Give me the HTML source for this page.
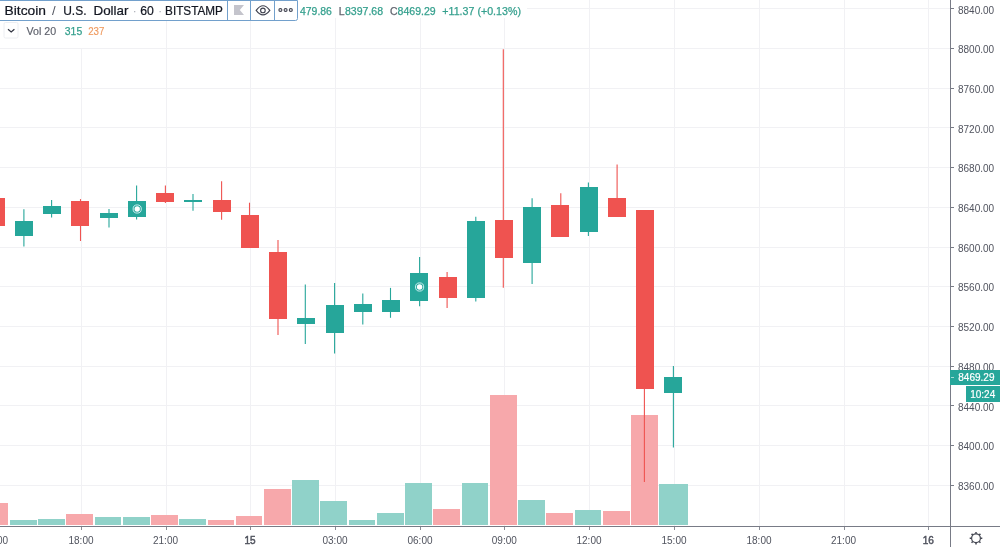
<!DOCTYPE html>
<html><head><meta charset="utf-8"><style>
html,body{margin:0;padding:0;width:1000px;height:547px;overflow:hidden;background:#fff;}
svg{position:absolute;left:0;top:0;}
text{font-family:"Liberation Sans",sans-serif;}
svg{will-change:transform;}
.ax{font-size:10px;fill:#50535e;}
.axb{font-size:10px;fill:#50535e;stroke:#50535e;stroke-width:0.45px;}
.axw{font-size:10px;fill:#ffffff;stroke:#ffffff;stroke-width:0.2px;}
.t{font-size:13px;fill:#131722;stroke:#131722;stroke-width:0.22px;}
.dot{font-size:13px;fill:#b0b3bb;}
.o{font-size:10.5px;fill:#35a08e;stroke:#35a08e;stroke-width:0.25px;}
.og{font-size:10.5px;fill:#62656f;stroke:#62656f;stroke-width:0.25px;}
</style></head><body>
<svg width="1000" height="547" viewBox="0 0 1000 547" shape-rendering="crispEdges">
<line x1="0" y1="8.5" x2="950" y2="8.5" stroke="#f1f1f4"/>
<line x1="0" y1="48.5" x2="950" y2="48.5" stroke="#f1f1f4"/>
<line x1="0" y1="88.5" x2="950" y2="88.5" stroke="#f1f1f4"/>
<line x1="0" y1="127.5" x2="950" y2="127.5" stroke="#f1f1f4"/>
<line x1="0" y1="167.5" x2="950" y2="167.5" stroke="#f1f1f4"/>
<line x1="0" y1="207.5" x2="950" y2="207.5" stroke="#f1f1f4"/>
<line x1="0" y1="247.5" x2="950" y2="247.5" stroke="#f1f1f4"/>
<line x1="0" y1="286.5" x2="950" y2="286.5" stroke="#f1f1f4"/>
<line x1="0" y1="326.5" x2="950" y2="326.5" stroke="#f1f1f4"/>
<line x1="0" y1="366.5" x2="950" y2="366.5" stroke="#f1f1f4"/>
<line x1="0" y1="405.5" x2="950" y2="405.5" stroke="#f1f1f4"/>
<line x1="0" y1="445.5" x2="950" y2="445.5" stroke="#f1f1f4"/>
<line x1="0" y1="485.5" x2="950" y2="485.5" stroke="#f1f1f4"/>
<line x1="-3.5" y1="0" x2="-3.5" y2="526" stroke="#f1f1f4"/>
<line x1="81.5" y1="0" x2="81.5" y2="526" stroke="#f1f1f4"/>
<line x1="166.5" y1="0" x2="166.5" y2="526" stroke="#f1f1f4"/>
<line x1="250.5" y1="0" x2="250.5" y2="526" stroke="#f1f1f4"/>
<line x1="335.5" y1="0" x2="335.5" y2="526" stroke="#f1f1f4"/>
<line x1="420.5" y1="0" x2="420.5" y2="526" stroke="#f1f1f4"/>
<line x1="504.5" y1="0" x2="504.5" y2="526" stroke="#f1f1f4"/>
<line x1="589.5" y1="0" x2="589.5" y2="526" stroke="#f1f1f4"/>
<line x1="674.5" y1="0" x2="674.5" y2="526" stroke="#f1f1f4"/>
<line x1="759.5" y1="0" x2="759.5" y2="526" stroke="#f1f1f4"/>
<line x1="844.5" y1="0" x2="844.5" y2="526" stroke="#f1f1f4"/>
<line x1="928.5" y1="0" x2="928.5" y2="526" stroke="#f1f1f4"/>
<rect x="-18.4" y="502.9" width="26.7" height="22.1" fill="#f7a8ab"/>
<rect x="9.8" y="519.9" width="26.7" height="5.1" fill="#90d2c9"/>
<rect x="38.0" y="518.6" width="26.7" height="6.4" fill="#90d2c9"/>
<rect x="66.3" y="513.7" width="26.7" height="11.3" fill="#f7a8ab"/>
<rect x="94.5" y="517.2" width="26.7" height="7.8" fill="#90d2c9"/>
<rect x="122.8" y="517.2" width="26.7" height="7.8" fill="#90d2c9"/>
<rect x="151.0" y="515.4" width="26.7" height="9.6" fill="#f7a8ab"/>
<rect x="179.2" y="518.6" width="26.7" height="6.4" fill="#90d2c9"/>
<rect x="207.5" y="520.4" width="26.7" height="4.6" fill="#f7a8ab"/>
<rect x="235.7" y="515.9" width="26.7" height="9.1" fill="#f7a8ab"/>
<rect x="264.0" y="488.9" width="26.7" height="36.1" fill="#f7a8ab"/>
<rect x="292.2" y="479.9" width="26.7" height="45.1" fill="#90d2c9"/>
<rect x="320.4" y="500.6" width="26.7" height="24.4" fill="#90d2c9"/>
<rect x="348.7" y="520.0" width="26.7" height="5.0" fill="#90d2c9"/>
<rect x="376.9" y="512.6" width="26.7" height="12.4" fill="#90d2c9"/>
<rect x="405.1" y="483.0" width="26.7" height="42.0" fill="#90d2c9"/>
<rect x="433.4" y="509.0" width="26.7" height="16.0" fill="#f7a8ab"/>
<rect x="461.6" y="483.2" width="26.7" height="41.8" fill="#90d2c9"/>
<rect x="489.9" y="395.1" width="26.7" height="129.9" fill="#f7a8ab"/>
<rect x="518.1" y="499.9" width="26.7" height="25.1" fill="#90d2c9"/>
<rect x="546.3" y="513.0" width="26.7" height="12.0" fill="#f7a8ab"/>
<rect x="574.6" y="510.0" width="26.7" height="15.0" fill="#90d2c9"/>
<rect x="602.8" y="511.1" width="26.7" height="13.9" fill="#f7a8ab"/>
<rect x="631.1" y="414.5" width="26.7" height="110.5" fill="#f7a8ab"/>
<rect x="659.3" y="484.2" width="28.6" height="40.8" fill="#90d2c9"/>
<rect x="-13.3" y="197.9" width="18" height="28.1" fill="#ef5350"/>
<line x1="23.9" y1="209.2" x2="23.9" y2="246.5" stroke="#26a69a" stroke-width="1.1" shape-rendering="geometricPrecision"/>
<rect x="14.9" y="221.3" width="18" height="14.5" fill="#26a69a"/>
<line x1="51.6" y1="200.1" x2="51.6" y2="217.4" stroke="#26a69a" stroke-width="1.1" shape-rendering="geometricPrecision"/>
<rect x="43.1" y="205.7" width="18" height="8.4" fill="#26a69a"/>
<line x1="80.5" y1="199.1" x2="80.5" y2="241" stroke="#ef5350" stroke-width="1.1" shape-rendering="geometricPrecision"/>
<rect x="71.4" y="201" width="18" height="24.6" fill="#ef5350"/>
<line x1="109" y1="209" x2="109" y2="227.6" stroke="#26a69a" stroke-width="1.1" shape-rendering="geometricPrecision"/>
<rect x="99.6" y="212.5" width="18" height="5.2" fill="#26a69a"/>
<line x1="136.6" y1="185.4" x2="136.6" y2="219.6" stroke="#26a69a" stroke-width="1.1" shape-rendering="geometricPrecision"/>
<rect x="127.9" y="201.3" width="18" height="15.3" fill="#26a69a"/>
<line x1="165.4" y1="185.4" x2="165.4" y2="203" stroke="#ef5350" stroke-width="1.1" shape-rendering="geometricPrecision"/>
<rect x="156.1" y="192.5" width="18" height="9.3" fill="#ef5350"/>
<line x1="193" y1="194.1" x2="193" y2="210.8" stroke="#26a69a" stroke-width="1.1" shape-rendering="geometricPrecision"/>
<rect x="184.3" y="200.3" width="18" height="1.5" fill="#26a69a"/>
<line x1="221.6" y1="181.2" x2="221.6" y2="219.7" stroke="#ef5350" stroke-width="1.1" shape-rendering="geometricPrecision"/>
<rect x="212.6" y="200.1" width="18" height="11.5" fill="#ef5350"/>
<line x1="249.5" y1="202.7" x2="249.5" y2="247.9" stroke="#ef5350" stroke-width="1.1" shape-rendering="geometricPrecision"/>
<rect x="240.8" y="215" width="18" height="32.9" fill="#ef5350"/>
<line x1="278" y1="240" x2="278" y2="335" stroke="#ef5350" stroke-width="1.1" shape-rendering="geometricPrecision"/>
<rect x="269.1" y="251.8" width="18" height="67.2" fill="#ef5350"/>
<line x1="305.3" y1="284.6" x2="305.3" y2="344" stroke="#26a69a" stroke-width="1.1" shape-rendering="geometricPrecision"/>
<rect x="297.3" y="317.9" width="18" height="6.1" fill="#26a69a"/>
<line x1="334.6" y1="283" x2="334.6" y2="353.5" stroke="#26a69a" stroke-width="1.1" shape-rendering="geometricPrecision"/>
<rect x="325.5" y="304.8" width="18" height="28.1" fill="#26a69a"/>
<line x1="362.8" y1="293.4" x2="362.8" y2="324.4" stroke="#26a69a" stroke-width="1.1" shape-rendering="geometricPrecision"/>
<rect x="353.8" y="303.9" width="18" height="7.6" fill="#26a69a"/>
<line x1="390.5" y1="287.9" x2="390.5" y2="317.8" stroke="#26a69a" stroke-width="1.1" shape-rendering="geometricPrecision"/>
<rect x="382.0" y="300.3" width="18" height="11.8" fill="#26a69a"/>
<line x1="419.6" y1="257" x2="419.6" y2="306.3" stroke="#26a69a" stroke-width="1.1" shape-rendering="geometricPrecision"/>
<rect x="410.2" y="273.2" width="18" height="27.4" fill="#26a69a"/>
<line x1="447.1" y1="272" x2="447.1" y2="308" stroke="#ef5350" stroke-width="1.1" shape-rendering="geometricPrecision"/>
<rect x="438.5" y="276.8" width="18" height="20.7" fill="#ef5350"/>
<line x1="475.8" y1="216.7" x2="475.8" y2="301.5" stroke="#26a69a" stroke-width="1.1" shape-rendering="geometricPrecision"/>
<rect x="466.7" y="221.1" width="18" height="76.4" fill="#26a69a"/>
<line x1="503.3" y1="49.2" x2="503.3" y2="287.8" stroke="#ef5350" stroke-width="1.1" shape-rendering="geometricPrecision"/>
<rect x="495.0" y="220.1" width="18" height="37.6" fill="#ef5350"/>
<line x1="532.1" y1="198.2" x2="532.1" y2="284" stroke="#26a69a" stroke-width="1.1" shape-rendering="geometricPrecision"/>
<rect x="523.2" y="206.7" width="18" height="56.0" fill="#26a69a"/>
<line x1="560.8" y1="193.3" x2="560.8" y2="236.8" stroke="#ef5350" stroke-width="1.1" shape-rendering="geometricPrecision"/>
<rect x="551.4" y="204.8" width="18" height="32.0" fill="#ef5350"/>
<line x1="588.4" y1="182.6" x2="588.4" y2="235.9" stroke="#26a69a" stroke-width="1.1" shape-rendering="geometricPrecision"/>
<rect x="579.7" y="187.2" width="18" height="44.4" fill="#26a69a"/>
<line x1="617.1" y1="164.5" x2="617.1" y2="216.6" stroke="#ef5350" stroke-width="1.1" shape-rendering="geometricPrecision"/>
<rect x="607.9" y="197.9" width="18" height="18.7" fill="#ef5350"/>
<line x1="644.4" y1="210" x2="644.4" y2="482" stroke="#ef5350" stroke-width="1.1" shape-rendering="geometricPrecision"/>
<rect x="636.2" y="210" width="18" height="179.2" fill="#ef5350"/>
<line x1="673.4" y1="366.1" x2="673.4" y2="447.4" stroke="#26a69a" stroke-width="1.1" shape-rendering="geometricPrecision"/>
<rect x="664.4" y="377.3" width="18" height="15.6" fill="#26a69a"/>
<circle cx="137.2" cy="209" r="4.1" fill="none" stroke="#c9eef0" stroke-width="1" shape-rendering="geometricPrecision"/>
<circle cx="137.2" cy="209" r="2.7" fill="#ffffff" shape-rendering="geometricPrecision"/>
<circle cx="419.6" cy="287" r="4.1" fill="none" stroke="#c9eef0" stroke-width="1" shape-rendering="geometricPrecision"/>
<circle cx="419.6" cy="287" r="2.7" fill="#ffffff" shape-rendering="geometricPrecision"/>
<line x1="0" y1="526.5" x2="1000" y2="526.5" stroke="#787b86"/>
<line x1="950.5" y1="0" x2="950.5" y2="547" stroke="#787b86"/>
<line x1="951" y1="8.5" x2="954" y2="8.5" stroke="#787b86"/>
<text x="958" y="13.6" class="ax">8840.00</text>
<line x1="951" y1="48.5" x2="954" y2="48.5" stroke="#787b86"/>
<text x="958" y="53.3" class="ax">8800.00</text>
<line x1="951" y1="88.5" x2="954" y2="88.5" stroke="#787b86"/>
<text x="958" y="93.0" class="ax">8760.00</text>
<line x1="951" y1="127.5" x2="954" y2="127.5" stroke="#787b86"/>
<text x="958" y="132.7" class="ax">8720.00</text>
<line x1="951" y1="167.5" x2="954" y2="167.5" stroke="#787b86"/>
<text x="958" y="172.4" class="ax">8680.00</text>
<line x1="951" y1="207.5" x2="954" y2="207.5" stroke="#787b86"/>
<text x="958" y="212.0" class="ax">8640.00</text>
<line x1="951" y1="247.5" x2="954" y2="247.5" stroke="#787b86"/>
<text x="958" y="251.7" class="ax">8600.00</text>
<line x1="951" y1="286.5" x2="954" y2="286.5" stroke="#787b86"/>
<text x="958" y="291.4" class="ax">8560.00</text>
<line x1="951" y1="326.5" x2="954" y2="326.5" stroke="#787b86"/>
<text x="958" y="331.1" class="ax">8520.00</text>
<line x1="951" y1="366.5" x2="954" y2="366.5" stroke="#787b86"/>
<text x="958" y="370.8" class="ax">8480.00</text>
<line x1="951" y1="405.5" x2="954" y2="405.5" stroke="#787b86"/>
<text x="958" y="410.5" class="ax">8440.00</text>
<line x1="951" y1="445.5" x2="954" y2="445.5" stroke="#787b86"/>
<text x="958" y="450.2" class="ax">8400.00</text>
<line x1="951" y1="485.5" x2="954" y2="485.5" stroke="#787b86"/>
<text x="958" y="489.9" class="ax">8360.00</text>
<line x1="-3.5" y1="527" x2="-3.5" y2="529.5" stroke="#8a8d96"/>
<text x="-4.5" y="544" class="ax" text-anchor="middle">15:00</text>
<line x1="81.5" y1="527" x2="81.5" y2="529.5" stroke="#8a8d96"/>
<text x="81.0" y="544" class="ax" text-anchor="middle">18:00</text>
<line x1="166.5" y1="527" x2="166.5" y2="529.5" stroke="#8a8d96"/>
<text x="165.5" y="544" class="ax" text-anchor="middle">21:00</text>
<line x1="250.5" y1="527" x2="250.5" y2="529.5" stroke="#8a8d96"/>
<text x="250.0" y="544" class="axb" text-anchor="middle">15</text>
<line x1="335.5" y1="527" x2="335.5" y2="529.5" stroke="#8a8d96"/>
<text x="335.0" y="544" class="ax" text-anchor="middle">03:00</text>
<line x1="420.5" y1="527" x2="420.5" y2="529.5" stroke="#8a8d96"/>
<text x="420.0" y="544" class="ax" text-anchor="middle">06:00</text>
<line x1="504.5" y1="527" x2="504.5" y2="529.5" stroke="#8a8d96"/>
<text x="504.3" y="544" class="ax" text-anchor="middle">09:00</text>
<line x1="589.5" y1="527" x2="589.5" y2="529.5" stroke="#8a8d96"/>
<text x="589.0" y="544" class="ax" text-anchor="middle">12:00</text>
<line x1="674.5" y1="527" x2="674.5" y2="529.5" stroke="#8a8d96"/>
<text x="674.0" y="544" class="ax" text-anchor="middle">15:00</text>
<line x1="759.5" y1="527" x2="759.5" y2="529.5" stroke="#8a8d96"/>
<text x="759.0" y="544" class="ax" text-anchor="middle">18:00</text>
<line x1="844.5" y1="527" x2="844.5" y2="529.5" stroke="#8a8d96"/>
<text x="843.5" y="544" class="ax" text-anchor="middle">21:00</text>
<line x1="928.5" y1="527" x2="928.5" y2="529.5" stroke="#8a8d96"/>
<text x="928.3" y="544" class="axb" text-anchor="middle">16</text>
<rect x="950" y="370" width="50" height="14.5" fill="#26a69a"/>
<text x="958.3" y="380.8" class="axw">8469.29</text>
<rect x="966" y="386" width="34" height="15.5" fill="#26a69a"/>
<text x="970.2" y="397.8" class="axw">10:24</text>
<line x1="951" y1="377.5" x2="954" y2="377.5" stroke="#a8dcd6"/>
<g shape-rendering="geometricPrecision"><circle cx="976" cy="538.3" r="4.4" fill="none" stroke="#434651" stroke-width="1.2"/>
<path d="M980.60 538.30L982.30 538.30 M979.25 541.55L980.45 542.75 M976.00 542.90L976.00 544.60 M972.75 541.55L971.55 542.75 M971.40 538.30L969.70 538.30 M972.75 535.05L971.55 533.85 M976.00 533.70L976.00 532.00 M979.25 535.05L980.45 533.85" stroke="#434651" stroke-width="1.5"/></g>
<rect x="0" y="0" width="527" height="17.5" fill="#ffffff"/>
<rect x="0" y="17" width="112" height="31" fill="#ffffff"/>
<!-- OHLC legend -->
<text x="300" y="15.4" class="o" textLength="31.9" lengthAdjust="spacingAndGlyphs">479.86</text>
<text x="338.7" y="15.4" class="og">L</text><text x="345" y="15.4" class="o" textLength="38.1" lengthAdjust="spacingAndGlyphs">8397.68</text>
<text x="390" y="15.4" class="og">C</text><text x="397.6" y="15.4" class="o" textLength="38.1" lengthAdjust="spacingAndGlyphs">8469.29</text>
<text x="442.3" y="15.4" class="o" textLength="78.7" lengthAdjust="spacingAndGlyphs">+11.37 (+0.13%)</text>
<!-- title box -->
<path d="M-2 0.5 H297.5 V18.5 Q297.5 20.5 295.5 20.5 H-2 Z" fill="#ffffff" stroke="#72a0cc" stroke-width="1" shape-rendering="geometricPrecision"/>
<line x1="227.5" y1="0" x2="227.5" y2="20.5" stroke="#72a0cc"/>
<line x1="250.5" y1="0" x2="250.5" y2="20.5" stroke="#72a0cc"/>
<line x1="274.5" y1="0" x2="274.5" y2="20.5" stroke="#72a0cc"/>
<g shape-rendering="geometricPrecision">
<text x="4.6" y="15" class="t" textLength="41.4" lengthAdjust="spacingAndGlyphs">Bitcoin</text>
<text x="52" y="15" class="t" style="fill:#50535e;stroke:none">/</text>
<text x="63.2" y="15" class="t" textLength="23.3" lengthAdjust="spacingAndGlyphs">U.S.</text>
<text x="93.5" y="15" class="t" textLength="35" lengthAdjust="spacingAndGlyphs">Dollar</text>
<text x="132.4" y="15" class="dot">·</text>
<text x="140.3" y="15" class="t" textLength="13.6" lengthAdjust="spacingAndGlyphs">60</text>
<text x="157.9" y="15" class="dot">·</text>
<text x="165.1" y="15" class="t" textLength="57.8" lengthAdjust="spacingAndGlyphs">BITSTAMP</text>
<path d="M234 5 H244 L239.8 10 L244 15 H234 Z" fill="#c4c4cc"/>
<path d="M256.2 10.3 Q263 1.2 269.8 10.3 Q263 19.4 256.2 10.3 Z" fill="none" stroke="#404350" stroke-width="1.2"/>
<circle cx="262.9" cy="10.4" r="2.3" fill="none" stroke="#404350" stroke-width="1.1"/>
<circle cx="280.4" cy="10" r="1.5" fill="#d8d8dc" stroke="#404350" stroke-width="1.1"/>
<circle cx="285.6" cy="10" r="1.5" fill="#d8d8dc" stroke="#404350" stroke-width="1.1"/>
<circle cx="290.8" cy="10" r="1.5" fill="#d8d8dc" stroke="#404350" stroke-width="1.1"/>
<!-- volume legend -->
<rect x="4" y="22.5" width="14" height="15.5" rx="1.5" fill="#ffffff" stroke="#eceef2"/>
<path d="M8 29.2 L11.2 31.9 L14.4 29.2" fill="none" stroke="#303340" stroke-width="1.2"/>
<text x="26.6" y="34.7" class="og" style="fill:#5d606b;stroke:#5d606b;stroke-width:0.15px" textLength="29.6" lengthAdjust="spacingAndGlyphs">Vol 20</text>
<text x="64.8" y="34.7" class="o" textLength="17.4" lengthAdjust="spacingAndGlyphs">315</text>
<text x="88.2" y="34.7" class="o" style="fill:#ef9a5f;stroke:#ef9a5f;stroke-width:0.15px" textLength="16.2" lengthAdjust="spacingAndGlyphs">237</text>
</g>
</svg>
</body></html>
